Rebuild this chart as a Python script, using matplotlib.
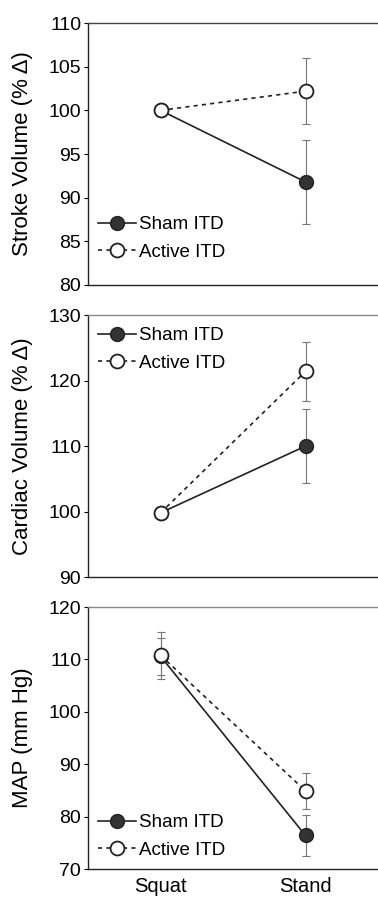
import matplotlib
matplotlib.use("Agg")
import matplotlib.pyplot as plt

plt.rcParams['font.family'] = ['Liberation Sans', 'DejaVu Sans']

conditions = ['Squat', 'Stand']
series_names = ['Sham ITD', 'Active ITD']

# stroke volume (% change)
sv_sham = [100.0, 91.8]
sv_sham_err = [0.0, 4.8]
sv_active = [100.0, 102.2]
sv_active_err = [0.0, 3.8]

# cardiac volume (% change)
cv_sham = [99.8, 110.0]
cv_sham_err = [0.0, 5.6]
cv_active = [99.8, 121.4]
cv_active_err = [0.0, 4.5]

# mean arterial pressure (mm Hg)
map_sham = [110.6, 76.4]
map_sham_err = [3.5, 3.9]
map_active = [110.8, 84.9]
map_active_err = [4.5, 3.5]

panels = [
    ('Stroke Volume (% Δ)', sv_sham, sv_sham_err, sv_active, sv_active_err,
     (80, 110), range(80, 111, 5), 0.263),
    ('Cardiac Volume (% Δ)', cv_sham, cv_sham_err, cv_active, cv_active_err,
     (90, 130), range(90, 131, 10), 0.954),
    ('MAP (mm Hg)', map_sham, map_sham_err, map_active, map_active_err,
     (70, 120), range(70, 121, 10), 0.21),
]

fig = plt.figure(figsize=(3.78, 8.97), dpi=100)
bottoms = [0.6823, 0.3567, 0.0312]

x = list(range(len(conditions)))
for i, (ylab, sh, sh_e, ac, ac_e, ylim, yt, leg_y) in enumerate(panels):
    ax = fig.add_axes([0.233, bottoms[i], 0.767, 0.292])
    ax.errorbar(x, sh, yerr=sh_e, fmt='none', ecolor='#777777', elinewidth=0.8,
                capsize=3, capthick=0.8, zorder=1)
    ax.errorbar(x, ac, yerr=ac_e, fmt='none', ecolor='#777777', elinewidth=0.8,
                capsize=3, capthick=0.8, zorder=1)
    ax.plot(x, sh, '-', color='#222222', lw=1.2, marker='o', markersize=10,
            markerfacecolor='#333333', markeredgecolor='#222222',
            markeredgewidth=1.0, label=series_names[0], zorder=3)
    ax.plot(x, ac, '--', color='#222222', lw=1.2, marker='o', markersize=10,
            markerfacecolor='white', markeredgecolor='#222222',
            markeredgewidth=1.3, label=series_names[1], zorder=4,
            dashes=(2.5, 2.5))
    ax.set_xlim(-0.5, 1.5)
    ax.set_ylim(*ylim)
    ax.set_yticks(list(yt))
    ax.set_ylabel(ylab, fontsize=16)
    ax.yaxis.set_label_coords(-0.19, 0.5)
    ax.tick_params(axis='y', labelsize=14, length=3, width=0.8, pad=2)
    ax.spines['right'].set_visible(False)
    ax.spines['top'].set_color('#444444' if i == 0 else '#888888')
    ax.spines['top'].set_linewidth(1.0)
    for s in ('left', 'bottom'):
        ax.spines[s].set_linewidth(1.0)
        ax.spines[s].set_color('#222222')
    if i == 2:
        ax.set_xticks(x)
        ax.set_xticklabels(conditions, fontsize=14.5)
        ax.tick_params(axis='x', length=0, pad=6)
    else:
        ax.set_xticks([])
    ax.legend(loc='upper left', bbox_to_anchor=(0.035, leg_y), frameon=False,
              fontsize=13.5, handlelength=2.0, handletextpad=0.2,
              labelspacing=0.55, borderaxespad=0.0, borderpad=0.0)

fig.savefig('out.png', dpi=100)
